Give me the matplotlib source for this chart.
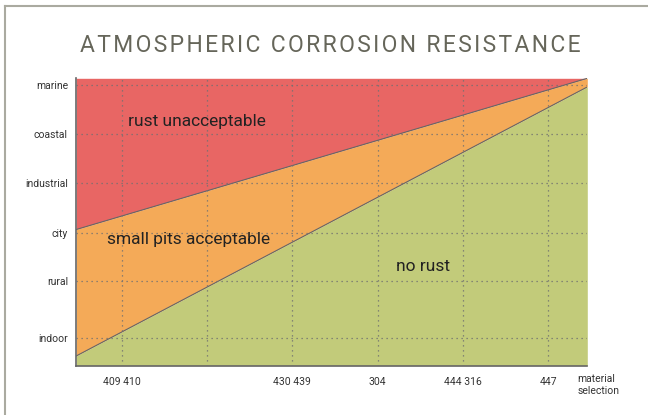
import matplotlib
matplotlib.use("Agg")
import matplotlib.pyplot as plt
from matplotlib.lines import Line2D

plt.rcParams['font.family'] = ['Roboto', 'DejaVu Sans']

# exposure categories (bottom to top) and where they sit on the y scale
exposure = ["indoor", "rural", "city", "industrial", "coastal", "marine"]
exposure_pos = [0.96, 2.95, 4.62, 6.36, 8.06, 9.77]

# material grades along x
grade_pos = [1, 2, 3, 4, 5, 6]
grade_labels = ["409 410", "", "430 439", "304", "444 316", "447"]

# zone boundaries, left and right end
x_ends = [0.47, 6.455]
red_orange = [4.74, 10.0]
orange_green = [0.34, 9.70]
y_top = 10.0

red = "#E86664"
orange = "#F4AA58"
green = "#C2CB7A"

fig = plt.figure(figsize=(6.48, 4.15), dpi=100, facecolor="white")
ax = fig.add_axes([76.3 / 648, 1 - 365.7 / 415, (587.3 - 76.3) / 648, (365.7 - 78.3) / 415])

ax.fill_between(x_ends, red_orange, y_top, color=red, lw=0)
ax.fill_between(x_ends, orange_green, red_orange, color=orange, lw=0)
ax.fill_between(x_ends, 0, orange_green, color=green, lw=0)
ax.plot(x_ends, red_orange, color="#666666", lw=0.8)
ax.plot(x_ends, orange_green, color="#666666", lw=0.8)

ax.set_xlim(x_ends)
ax.set_ylim(0, y_top)

ax.set_yticks(exposure_pos)
ax.set_yticklabels(exposure)
ax.set_xticks(grade_pos)
ax.set_xticklabels(grade_labels)
ax.tick_params(length=0, labelsize=7.5, colors="#333333", pad=6)
ax.tick_params(axis="x", pad=8)
ax.grid(True, linestyle=(0, (1, 3)), color="#707070", lw=0.9)
ax.set_axisbelow(False)

for s in ["top", "right"]:
    ax.spines[s].set_visible(False)
for s in ["left", "bottom"]:
    ax.spines[s].set_color("#666666")
    ax.spines[s].set_linewidth(1.2)

ax.text(1.08, 8.5, "rust unacceptable", fontsize=12.5, color="#222222", va="center")
ax.text(0.83, 4.4, "small pits acceptable", fontsize=12.5, color="#222222", va="center")
ax.text(4.22, 3.45, "no rust", fontsize=12.5, color="#222222", va="center")

fig.text(577.3 / 648, 1 - 385 / 415, "material\nselection", fontsize=7.5,
         color="#333333", va="center", ha="left", linespacing=1.3)

title = "\u200a".join("ATMOSPHERIC CORROSION RESISTANCE")
fig.text(330 / 648, 1 - 45.5 / 415, title, fontsize=16.5, color="#66665a",
         ha="center", va="center")

# page frame
fig.add_artist(Line2D([5 / 648, 5 / 648], [0, 1 - 6 / 415], color="#aaaaa0", lw=1.5))
fig.add_artist(Line2D([5 / 648, 1], [1 - 6 / 415, 1 - 6 / 415], color="#aaaaa0", lw=1.5))

fig.savefig("out.png", dpi=100)
